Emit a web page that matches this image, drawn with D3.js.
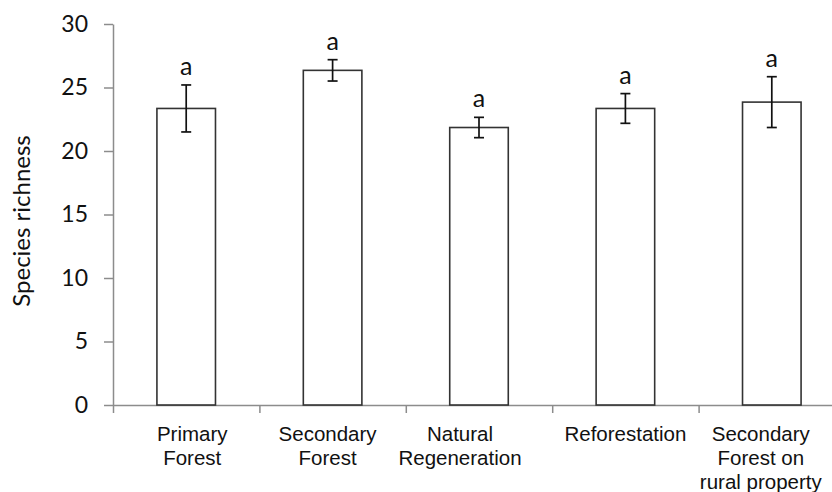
<!DOCTYPE html>
<html>
<head>
<meta charset="utf-8">
<script src="https://cdn.jsdelivr.net/npm/d3@7"></script>
<style>
  body { margin: 0; background: #fff; }
  svg { display: block; }
</style>
</head>
<body>
<svg id="chart" width="832" height="492"></svg>
<script>
// values
const habitats = [
  ['Primary', 'Forest'],
  ['Secondary', 'Forest'],
  ['Natural', 'Regeneration'],
  ['Reforestation'],
  ['Secondary', 'Forest on', 'rural property'],
]
const richness = [23.35, 26.35, 21.85, 23.35, 23.85]
const stdErr = [1.85, 0.84, 0.8, 1.17, 2.0]
const letters = ['a', 'a', 'a', 'a', 'a']
const yTicks = [0, 5, 10, 15, 20, 25, 30]

// the category labels in the original are nudged by hand
const labelNudge = [6, -5, -19, 0, -11]

const svg = d3.select('svg#chart')
const plotLeft = 113, plotRight = 845, plotTop = 24, plotBottom = 405

const x = d3.scaleBand()
  .domain(d3.range(habitats.length))
  .range([plotLeft, plotRight])
  .paddingInner(0.6)
  .paddingOuter(0.3)

const y = d3.scaleLinear().domain([0, 30]).range([plotBottom, plotTop])

// y axis
const yAxis = svg.append('g')
  .attr('transform', `translate(${plotLeft},0)`)
  .call(d3.axisLeft(y).tickValues(yTicks).tickSize(9).tickSizeOuter(0).tickPadding(16))
yAxis.select('.domain').attr('stroke', '#8c8c8c').attr('stroke-width', 1.5)
yAxis.selectAll('.tick line').attr('stroke', '#8c8c8c').attr('stroke-width', 1.5)
yAxis.selectAll('.tick text')
  .attr('font-family', 'Lato, sans-serif')
  .attr('font-size', 23)
  .attr('fill', '#111')

// x axis: ticks sit between categories
const xEdge = d3.scaleLinear().domain([0, habitats.length]).range([plotLeft, plotRight])
const xAxis = svg.append('g')
  .attr('transform', `translate(0,${plotBottom})`)
  .call(d3.axisBottom(xEdge).tickValues(d3.range(habitats.length)).tickSize(8).tickSizeOuter(0).tickFormat(''))
xAxis.select('.domain').attr('stroke', '#8c8c8c').attr('stroke-width', 1.5)
xAxis.selectAll('.tick line').attr('stroke', '#8c8c8c').attr('stroke-width', 1.5)

// bars
svg.append('g')
  .selectAll('rect')
  .data(richness)
  .join('rect')
  .attr('x', (d, i) => x(i))
  .attr('width', x.bandwidth())
  .attr('y', (d) => y(d))
  .attr('height', (d) => y(0) - y(d))
  .attr('fill', '#fff')
  .attr('stroke', '#333')
  .attr('stroke-width', 1.6)

// error bars
const cx = (i) => x(i) + x.bandwidth() / 2
const err = svg.append('g').attr('stroke', '#111').attr('stroke-width', 1.7)
richness.forEach((d, i) => {
  const lo = y(d - stdErr[i]), hi = y(d + stdErr[i])
  err.append('line').attr('x1', cx(i)).attr('x2', cx(i)).attr('y1', lo).attr('y2', hi)
  err.append('line').attr('x1', cx(i) - 5).attr('x2', cx(i) + 5).attr('y1', lo).attr('y2', lo)
  err.append('line').attr('x1', cx(i) - 5).attr('x2', cx(i) + 5).attr('y1', hi).attr('y2', hi)
})

// significance letters
svg.append('g')
  .selectAll('text')
  .data(letters)
  .join('text')
  .attr('x', (d, i) => cx(i))
  .attr('y', (d, i) => y(richness[i] + stdErr[i]) - 10)
  .attr('text-anchor', 'middle')
  .attr('font-family', 'Lato, sans-serif')
  .attr('font-size', 25)
  .attr('fill', '#111')
  .text((d) => d)

// category labels
svg.append('g')
  .selectAll('text')
  .data(habitats)
  .join('text')
  .attr('text-anchor', 'middle')
  .attr('font-family', '"Liberation Sans", Arial, sans-serif')
  .attr('font-size', 20.5)
  .attr('fill', '#111')
  .each(function (lines, i) {
    d3.select(this)
      .selectAll('tspan')
      .data(lines)
      .join('tspan')
      .attr('x', cx(i) + labelNudge[i])
      .attr('y', (l, k) => 441 + k * 24)
      .text((l) => l)
  })

// y axis title
svg.append('text')
  .attr('transform', 'translate(30,221) rotate(-90)')
  .attr('text-anchor', 'middle')
  .attr('font-family', 'Lato, sans-serif')
  .attr('font-size', 24)
  .attr('fill', '#111')
  .text('Species richness')
</script>
</body>
</html>
